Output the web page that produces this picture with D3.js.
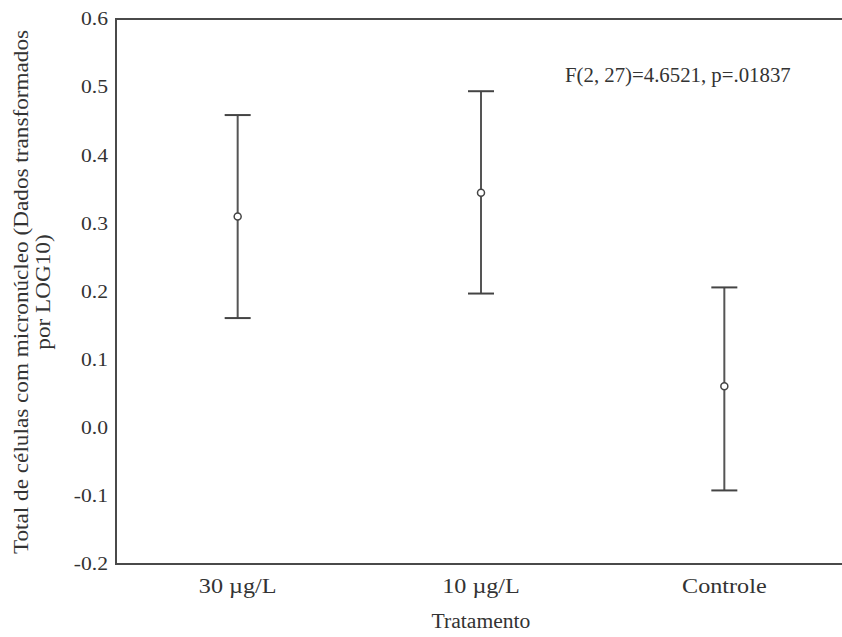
<!DOCTYPE html>
<html>
<head>
<meta charset="utf-8">
<script src="https://cdn.jsdelivr.net/npm/d3@7"></script>
<style>
  body { margin: 0; background: #fff; }
  text { font-family: "Liberation Serif", "Times New Roman", serif; fill: #333; }
</style>
</head>
<body>
<script>
var width = 842;
var height = 637;

var categories = ["30 \u00b5g/L", "10 \u00b5g/L", "Controle"];
var means = [0.310, 0.345, 0.061];
var lower = [0.161, 0.197, -0.092];
var upper = [0.459, 0.494, 0.206];
var yTicks = [-0.2, -0.1, 0.0, 0.1, 0.2, 0.3, 0.4, 0.5, 0.6];

var mLeft = 116, mTop = 19, mBottom = 564, mRight = 846;

var svg = d3.select("body")
  .append("svg")
  .attr("width", width)
  .attr("height", height);

var x = d3.scaleBand().domain(categories).range([mLeft, mRight]);
var y = d3.scaleLinear().domain([-0.2, 0.6]).range([mBottom, mTop]);

// stretch text a little wider, the original font is wide
function widen(sel, k) {
  sel.each(function() {
    var len = this.getComputedTextLength();
    d3.select(this).attr("textLength", len * k).attr("lengthAdjust", "spacingAndGlyphs");
  });
}

// frame
svg.append("rect")
  .attr("x", mLeft).attr("y", mTop)
  .attr("width", mRight - mLeft).attr("height", mBottom - mTop)
  .attr("fill", "none").attr("stroke", "#4a4a4a").attr("stroke-width", 2);

// y axis labels, no tick marks (plain hyphen for negatives)
var yAxis = d3.axisLeft(y).tickValues(yTicks).tickSize(0).tickPadding(8)
  .tickFormat(function(d) { return d.toFixed(1); });
var gy = svg.append("g").attr("transform", "translate(" + mLeft + ",0)").call(yAxis);
gy.select(".domain").remove();
gy.selectAll("text").style("font-size", "18px").attr("font-family", null).attr("fill", "#333");
widen(gy.selectAll("text"), 1.2);

// x axis labels
var xAxis = d3.axisBottom(x).tickSize(0);
var gx = svg.append("g").attr("transform", "translate(0," + mBottom + ")").call(xAxis);
gx.select(".domain").remove();
gx.selectAll("text").style("font-size", "21px").attr("font-family", null)
  .attr("fill", "#333").attr("y", 29).attr("dy", 0);
widen(gx.selectAll("text"), 1.15);

var data = categories.map(function(c, i) {
  return { cat: c, mean: means[i], lo: lower[i], hi: upper[i] };
});

var cap = 13;
var g = svg.selectAll("g.err").data(data).enter().append("g").attr("class", "err")
  .attr("transform", function(d) { return "translate(" + (x(d.cat) + x.bandwidth() / 2) + ",0)"; });

g.append("line")
  .attr("x1", 0).attr("x2", 0)
  .attr("y1", function(d) { return y(d.hi); })
  .attr("y2", function(d) { return y(d.lo); })
  .attr("stroke", "#555").attr("stroke-width", 2);
g.append("line")
  .attr("x1", -cap).attr("x2", cap)
  .attr("y1", function(d) { return y(d.hi); })
  .attr("y2", function(d) { return y(d.hi); })
  .attr("stroke", "#444").attr("stroke-width", 2);
g.append("line")
  .attr("x1", -cap).attr("x2", cap)
  .attr("y1", function(d) { return y(d.lo); })
  .attr("y2", function(d) { return y(d.lo); })
  .attr("stroke", "#444").attr("stroke-width", 2);
g.append("circle")
  .attr("cx", 0)
  .attr("cy", function(d) { return y(d.mean); })
  .attr("r", 3.5)
  .attr("fill", "#fff").attr("stroke", "#444").attr("stroke-width", 1.5);

// annotation
var note = svg.append("text")
  .attr("x", 565).attr("y", 82)
  .style("font-size", "20px")
  .text("F(2, 27)=4.6521, p=.01837");
widen(note, 1.04);

// axis titles
var xt = svg.append("text")
  .attr("x", (mLeft + mRight) / 2).attr("y", 628)
  .attr("text-anchor", "middle")
  .style("font-size", "20px")
  .text("Tratamento");
widen(xt, 1.08);

var yt = svg.append("text")
  .attr("transform", "translate(28,292) rotate(-90)")
  .attr("text-anchor", "middle")
  .style("font-size", "20px");
yt.append("tspan").attr("x", 0).attr("dy", 0)
  .text("Total de c\u00e9lulas com micron\u00facleo (Dados transformados");
yt.append("tspan").attr("x", 0).attr("dy", 22).text("por LOG10)");
widen(yt.selectAll("tspan"), 1.16);
</script>
</body>
</html>
